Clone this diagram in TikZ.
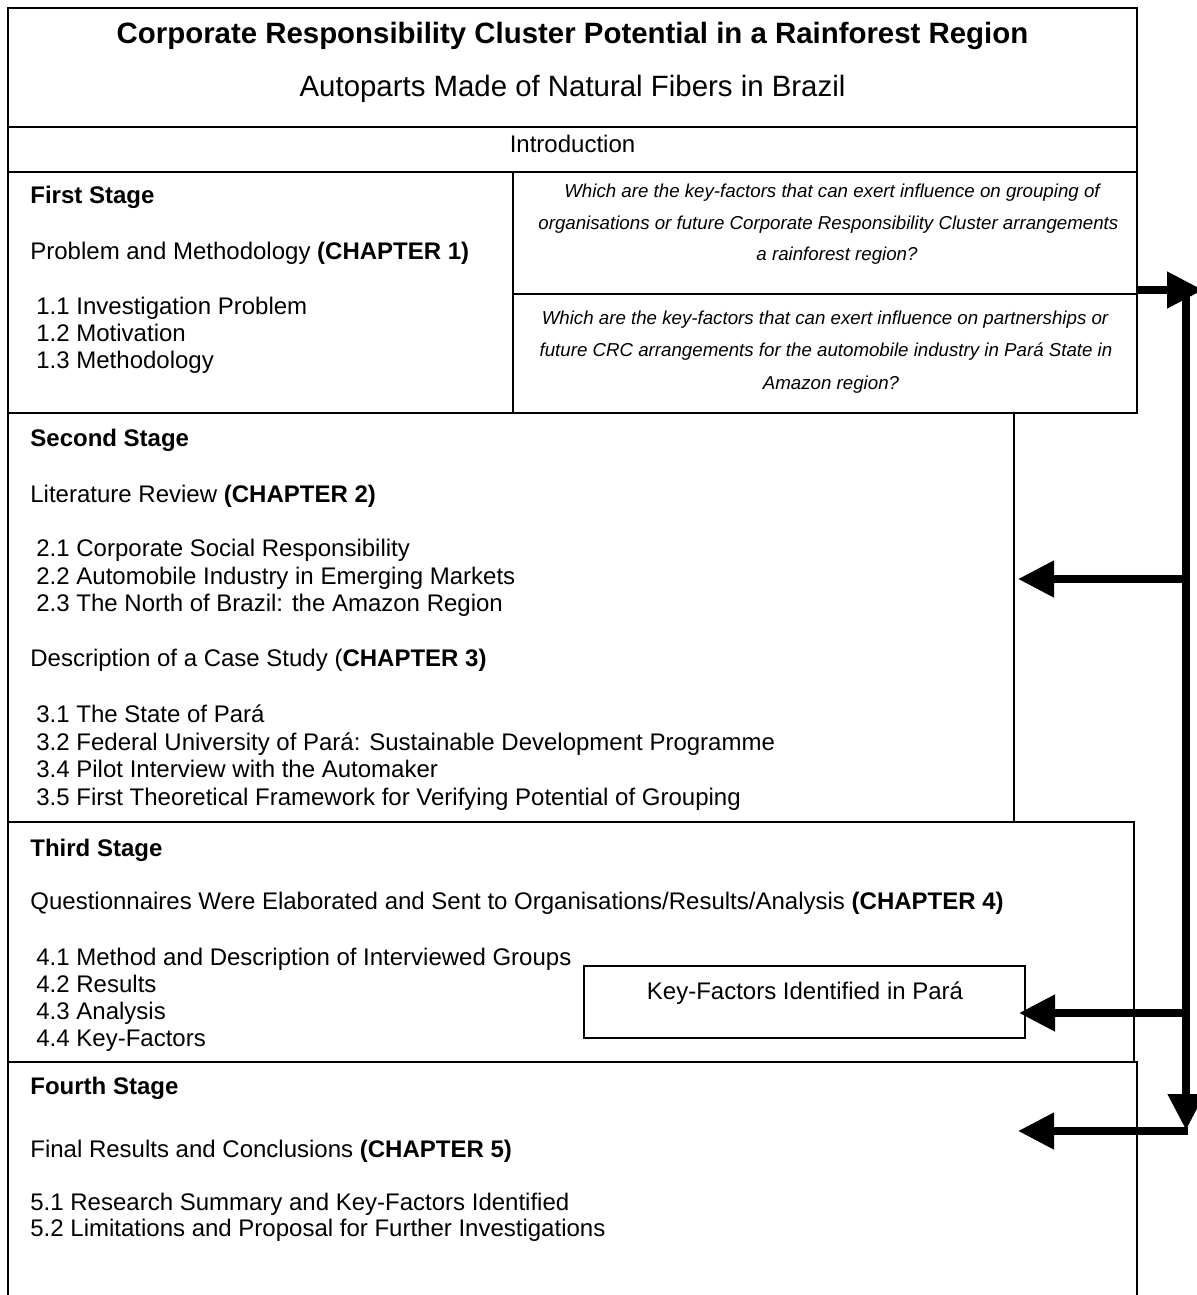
\documentclass[tikz,border=0pt]{standalone}
\usepackage{fontspec}
\setmainfont{Liberation Sans}
\usetikzlibrary{arrows.meta}
\begin{document}
\begin{tikzpicture}[x=0.5pt,y=-0.5pt,
  box/.style={draw, line width=0.8pt, inner sep=0pt, outer sep=0pt, anchor=north west},
  txt/.style={anchor=base west, inner sep=0pt, font=\fontsize{12}{13.8}\selectfont},
  ctxt/.style={anchor=base, inner sep=0pt, font=\fontsize{12}{13.8}\selectfont},
  qtxt/.style={anchor=base, inner sep=0pt, font=\fontsize{9.35}{11}\selectfont\itshape},
  bigline/.style={line width=3.85pt},
  bigtip/.style={-{Triangle[length=18pt,width=17.5pt]}}
]
\useasboundingbox (0,0) rectangle (1197,1295);
\clip (0,0) rectangle (1197,1295);

% boxes
\node[box, minimum width=564.5pt, minimum height=59.5pt] (titlebox) at (8,8) {};
\node[box, minimum width=564.5pt, minimum height=22.5pt] (introbox) at (8,127) {};
\node[box, minimum width=252.5pt, minimum height=120.5pt] (s1) at (8,172) {};
\node[box, minimum width=312pt, minimum height=61pt] (q1) at (513,172) {};
\node[box, minimum width=312pt, minimum height=59.5pt] (q2) at (513,294) {};
\node[box, minimum width=503pt, minimum height=204.5pt] (s2) at (8,413) {};
\node[box, minimum width=563pt, minimum height=120pt] (s3) at (8,822) {};
\node[box, minimum width=564.5pt, minimum height=150pt] (s4) at (8,1062) {};
\node[box, fill=white, minimum width=220.5pt, minimum height=36pt] (kf) at (584,966) {};

% title texts
\node[ctxt, font=\fontsize{14.7}{16}\selectfont\bfseries] (t1) at (572.5,44) {Corporate Responsibility Cluster Potential in a Rainforest Region};
\node[ctxt, font=\fontsize{14.7}{16}\selectfont] (t2) at (572.5,97) {Autoparts Made of Natural Fibers in Brazil};
\node[ctxt] (tintro) at (572.5,153) {Introduction};

% first stage
\node[txt, font=\fontsize{12}{13.8}\selectfont\bfseries] (h1) at (30,203) {First Stage};
\node[txt] (c1) at (30,259) {Problem and Methodology \textbf{(CHAPTER 1)}};
\node[txt] (i11) at (36,314) {1.1 Investigation Problem};
\node[txt] (i12) at (36,341) {1.2 Motivation};
\node[txt] (i13) at (36,368) {1.3 Methodology};

% questions
\node[qtxt] (q1a) at (832,197) {Which are the key-factors that can exert influence on grouping of};
\node[qtxt, anchor=base west] (q1b) at (538,229) {organisations or future Corporate Responsibility Cluster arrangements};
\node[qtxt] (q1c) at (837,260) {a rainforest region?};
\node[qtxt] (q2a) at (825,324) {Which are the key-factors that can exert influence on partnerships or};
\node[qtxt] (q2b) at (826,356) {future CRC arrangements for the automobile industry in Par\'a State in};
\node[qtxt] (q2c) at (831,389) {Amazon region?};

% second stage
\node[txt, font=\fontsize{12}{13.8}\selectfont\bfseries] (h2) at (30,446) {Second Stage};
\node[txt] (c2) at (30,502) {Literature Review \textbf{(CHAPTER 2)}};
\node[txt] (i21) at (36,556) {2.1 Corporate Social Responsibility};
\node[txt] (i22) at (36,584) {2.2 Automobile Industry in Emerging Markets};
\node[txt] (i23) at (36,611) {2.3 The North of Brazil: the Amazon Region};
\node[txt] (c3) at (30,666) {Description of a Case Study (\textbf{CHAPTER 3)}};
\node[txt] (i31) at (36,722) {3.1 The State of Par\'a};
\node[txt] (i32) at (36,750) {3.2 Federal University of Par\'a: Sustainable Development Programme};
\node[txt] (i34) at (36,777) {3.4 Pilot Interview with the Automaker};
\node[txt] (i35) at (36,805) {3.5 First Theoretical Framework for Verifying Potential of Grouping};

% third stage
\node[txt, font=\fontsize{12}{13.8}\selectfont\bfseries] (h3) at (30,856) {Third Stage};
\node[txt] (c4) at (30,909) {Questionnaires Were Elaborated and Sent to Organisations/Results/Analysis \textbf{(CHAPTER 4)}};
\node[txt] (i41) at (36,965) {4.1 Method and Description of Interviewed Groups};
\node[txt] (i42) at (36,992) {4.2 Results};
\node[txt] (i43) at (36,1019) {4.3 Analysis};
\node[txt] (i44) at (36,1046) {4.4 Key-Factors};
\node[ctxt] (kft) at (805,999) {Key-Factors Identified in Par\'a};

% fourth stage
\node[txt, font=\fontsize{12}{13.8}\selectfont\bfseries] (h4) at (30,1094) {Fourth Stage};
\node[txt] (c5) at (30,1157) {Final Results and Conclusions \textbf{(CHAPTER 5)}};
\node[txt] (i51) at (30,1210) {5.1 Research Summary and Key-Factors Identified};
\node[txt] (i52) at (30,1236) {5.2 Limitations and Proposal for Further Investigations};

% connectors
\coordinate (qR) at (1137,290);
\coordinate (qOut) at (1203,290);
\coordinate (trTop) at (1186,290);
\coordinate (trBot) at (1186,1130);
\coordinate (b2) at (1186,579);
\coordinate (e2) at (1018,579);
\coordinate (b3) at (1186,1013);
\coordinate (e3) at (1019,1013);
\coordinate (b4) at (1188,1131);
\coordinate (e4) at (1018,1131);
\draw[bigline,bigtip] (qR) -- (qOut);
\draw[bigline,bigtip] (trTop) -- (trBot);
\draw[bigline,bigtip] (b2) -- (e2);
\draw[bigline,bigtip] (b3) -- (e3);
\draw[bigline,bigtip] (b4) -- (e4);
\end{tikzpicture}
\end{document}
